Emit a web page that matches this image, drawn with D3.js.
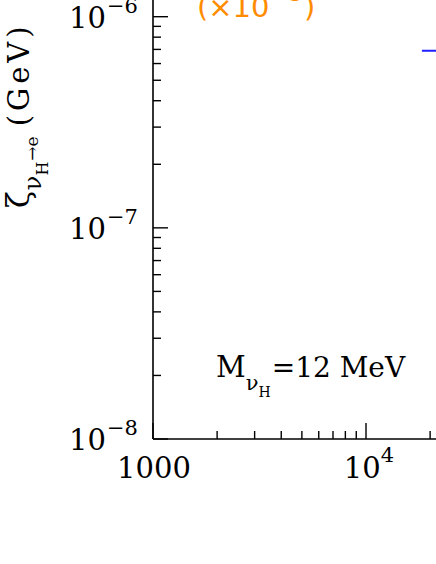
<!DOCTYPE html>
<html>
<head>
<meta charset="utf-8">
<script src="https://cdn.jsdelivr.net/npm/d3@7"></script>
<style>
  html, body { margin: 0; padding: 0; background: #fff; }
  svg { display: block; }
</style>
</head>
<body>
<div id="chart"></div>
<script>
// data
const xMajor = [1000, 10000];
const xMajorLabels = [["1000", ""], ["10", "4"]];
const yMajor = [1e-8, 1e-7, 1e-6];
const yMajorLabels = [["10", "\u22128"], ["10", "\u22127"], ["10", "\u22126"]];
const blueX = [18300, 30000];
const blueY = [6.9e-7, 6.9e-7];
const massLabel = "12 MeV";
const scaleNote = ["(\u00d710", "\u22123", ")"];

const width = 436;
const height = 564;

const svg = d3.select('#chart').append('svg')
  .attr('width', width)
  .attr('height', height);

const x0 = 153, yBottom = 439;
const x = d3.scaleLog().domain([1000, 10000]).range([x0, 366]);
const y = d3.scaleLog().domain([1e-8, 1e-6]).range([yBottom, 16.7]);

const serif = 'DejaVu Serif';

// axis lines
svg.append('line')
  .attr('x1', x0).attr('x2', x0).attr('y1', 0).attr('y2', yBottom)
  .attr('stroke', 'black').attr('stroke-width', 1.6);
svg.append('line')
  .attr('x1', x0).attr('x2', width).attr('y1', yBottom).attr('y2', yBottom)
  .attr('stroke', 'black').attr('stroke-width', 1.6);

// ticks
const xAll = d3.scaleLog().domain([1000, 30000]).ticks();
const yAll = y.ticks();
const isMajor = v => Math.abs(Math.log10(v) - Math.round(Math.log10(v))) < 1e-9;

svg.append('g')
  .selectAll('line')
  .data(xAll.filter(v => x(v) <= width))
  .join('line')
  .attr('x1', d => x(d)).attr('x2', d => x(d))
  .attr('y1', yBottom).attr('y2', d => yBottom - (isMajor(d) ? 16 : 8))
  .attr('stroke', 'black').attr('stroke-width', 1.4);

svg.append('g')
  .selectAll('line')
  .data(yAll)
  .join('line')
  .attr('y1', d => y(d)).attr('y2', d => y(d))
  .attr('x1', x0).attr('x2', d => x0 + (isMajor(d) ? 15 : 8))
  .attr('stroke', 'black').attr('stroke-width', 1.4);

// y tick labels
yMajor.forEach((v, i) => {
  const t = svg.append('text')
    .attr('x', 69).attr('y', y(v) + 11)
    .attr('font-family', serif).attr('font-size', 29);
  t.append('tspan').text(yMajorLabels[i][0]);
  t.append('tspan').attr('dy', -15).attr('dx', 1).attr('font-size', 21).text(yMajorLabels[i][1]);
});

// x tick labels
xMajor.forEach((v, i) => {
  const t = svg.append('text')
    .attr('x', x(v) + (i === 0 ? 1 : 3)).attr('y', yBottom + 39)
    .attr('text-anchor', 'middle')
    .attr('font-family', serif).attr('font-size', 29);
  t.append('tspan').text(xMajorLabels[i][0]);
  if (xMajorLabels[i][1]) {
    t.append('tspan').attr('dy', -16).attr('font-size', 21).text(xMajorLabels[i][1]);
  }
});

// blue curve
svg.append('path')
  .attr('d', d3.line().x(d => x(d[0])).y(d => y(d[1]))(d3.zip(blueX, blueY)))
  .attr('fill', 'none').attr('stroke', '#1f1fff').attr('stroke-width', 2);

// orange scale note (its top is cut by the frame, as in the source)
const note = svg.append('text')
  .attr('x', 197).attr('y', 17)
  .attr('fill', '#ff8c00')
  .attr('font-family', 'DejaVu Sans').attr('font-size', 29);
note.append('tspan').text(scaleNote[0]);
note.append('tspan').attr('dy', -16).attr('dx', 3).attr('font-size', 20).text(scaleNote[1]);
note.append('tspan').attr('dy', 16).attr('dx', 2).text(scaleNote[2]);

// mass label
const m = svg.append('text')
  .attr('x', 216).attr('y', 377)
  .attr('font-family', serif).attr('font-size', 29);
m.append('tspan').text('M');
m.append('tspan').attr('dy', 13).attr('font-size', 21).text('\u03bd');
m.append('tspan').attr('dy', 7).attr('font-size', 14).text('H');
m.append('tspan').attr('dy', -20).attr('dx', 1).attr('font-size', 28).text('=' + massLabel.replace(' ', '\u00a0'));

// y axis title
const yt = svg.append('text')
  .attr('transform', 'translate(29,208) rotate(-90)')
  .attr('font-family', serif).attr('font-size', 31);
yt.append('tspan').text('\u03b6');
yt.append('tspan').attr('dy', 12).attr('dx', 1).attr('font-size', 24).text('\u03bd');
yt.append('tspan').attr('dy', 7).attr('font-size', 16).text('H');
yt.append('tspan').attr('dy', -10).attr('dx', 1).attr('font-size', 17).text('\u2192e');
yt.append('tspan').attr('dy', -9).attr('dx', 10)
  .attr('font-size', 29).attr('letter-spacing', 4).text('(GeV)');
</script>
</body>
</html>
